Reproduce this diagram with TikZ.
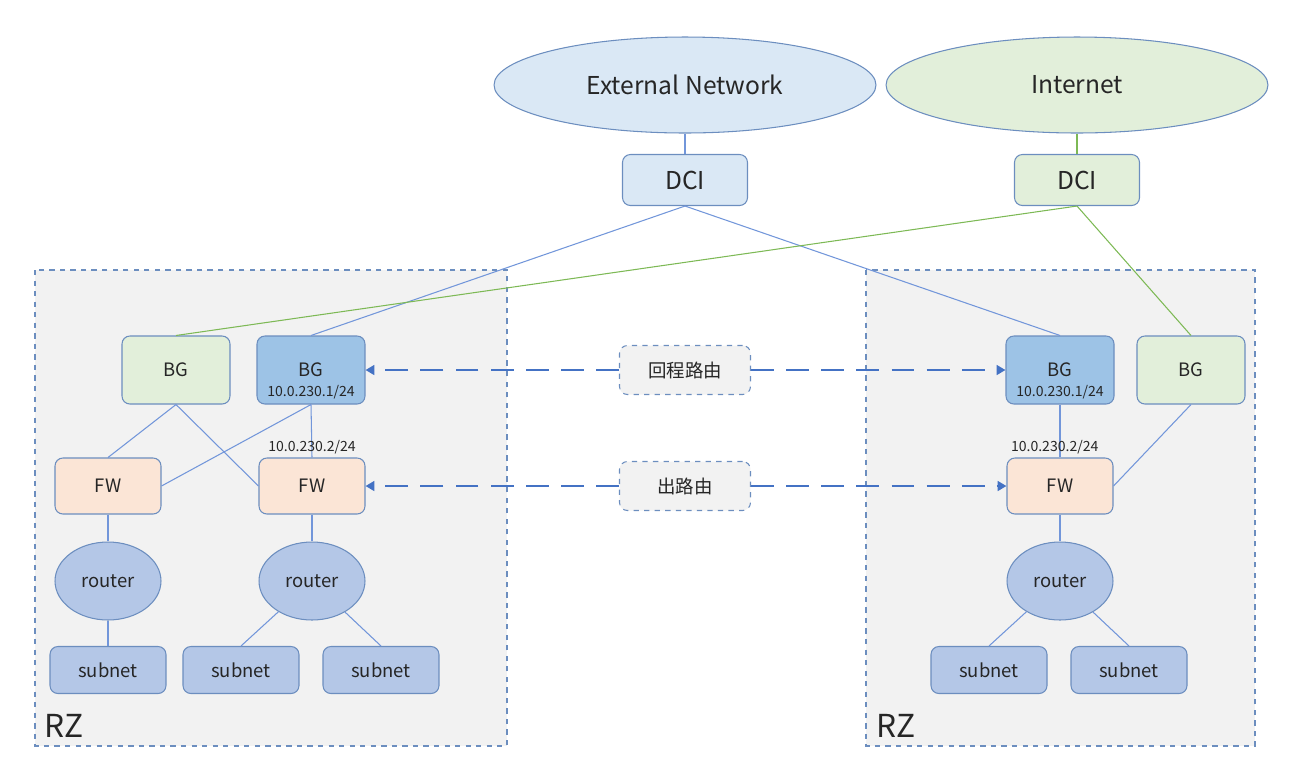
\documentclass[tikz,border=0pt]{standalone}
\usepackage{fontspec}
\setmainfont{Noto Sans CJK SC}
\usepackage{tikz}
\usetikzlibrary{shapes.geometric,arrows.meta,positioning}
\definecolor{netblue}{RGB}{218, 232, 245}
\definecolor{netgreen}{RGB}{226, 239, 218}
\definecolor{bgblue}{RGB}{157, 195, 230}
\definecolor{fwpeach}{RGB}{251, 229, 214}
\definecolor{rtblue}{RGB}{180, 199, 231}
\definecolor{edgeblue}{RGB}{108, 142, 191}
\definecolor{wireblue}{RGB}{114, 150, 218}
\definecolor{wiregreen}{RGB}{125, 185, 85}
\definecolor{arrowblue}{RGB}{68, 114, 196}
\definecolor{zonegray}{RGB}{242, 242, 242}
\definecolor{textgray}{RGB}{38, 38, 38}

\tikzset{
  box/.style={draw=edgeblue, line width=0.6pt, rectangle, rounded corners=4.5pt, text=textgray, inner sep=0pt},
  cloud/.style={draw=edgeblue, line width=0.6pt, ellipse, inner sep=0pt, minimum width=7.64cm, minimum height=1.92cm, font=\fontsize{14}{16}\selectfont, text=textgray},
  dcibox/.style={box, minimum width=2.5cm, minimum height=1.02cm, font=\fontsize{14}{16}\selectfont},
  bgbox/.style={box, minimum width=2.16cm, minimum height=1.36cm, font=\fontsize{10.5}{12}\selectfont},
  fwbox/.style={box, fill=fwpeach, minimum width=2.12cm, minimum height=1.12cm, font=\fontsize{10.5}{12}\selectfont},
  rtnode/.style={draw=edgeblue, line width=0.6pt, ellipse, fill=rtblue, inner sep=0pt, minimum width=2.12cm, minimum height=1.56cm, text=textgray, font=\fontsize{10.5}{12}\selectfont},
  subbox/.style={box, fill=rtblue, minimum width=2.32cm, minimum height=0.94cm, font=\fontsize{10.5}{12}\selectfont},
  tagbox/.style={box, dashed, fill=zonegray, minimum width=2.62cm, minimum height=0.98cm, font=\fontsize{10.5}{12}\selectfont},
  zone/.style={draw=edgeblue, dashed, line width=0.6pt, fill=zonegray},
  iptext/.style={inner sep=0pt, text=textgray, font=\fontsize{8}{9}\selectfont},
  bwire/.style={draw=wireblue, line width=0.6pt},
  gwire/.style={draw=wiregreen, line width=0.6pt},
  route/.style={draw=arrowblue, line width=1.6pt, dash pattern=on 13pt off 7pt, -{Triangle[length=5pt,width=5.5pt]}}
}

\begin{document}
\begin{tikzpicture}[x=0.02cm, y=-0.02cm]
    \useasboundingbox (0,0) rectangle (1305,772);

    % Zones
    \draw[zone] (35,270) rectangle (507,746);
    \draw[zone] (866,270) rectangle (1255,746);
    \node[anchor=south west, inner sep=0pt, text=textgray, font=\fontsize{18}{20}\selectfont] (rzL) at (44,738) {RZ};
    \node[anchor=south west, inner sep=0pt, text=textgray, font=\fontsize{18}{20}\selectfont] (rzR) at (876,738) {RZ};

    % Upstream networks
    \node[cloud, fill=netblue] (ext) at (685,85) {External Network};
    \node[cloud, fill=netgreen] (inet) at (1077,85) {Internet};
    \node[dcibox, fill=netblue] (dciA) at (685,180) {DCI};
    \node[dcibox, fill=netgreen] (dciB) at (1077,180) {DCI};

    % Left zone
    \node[bgbox, fill=netgreen] (bgLg) at (176,370) {BG};
    \node[bgbox, fill=bgblue] (bgLb) at (311,370) {BG};
    \node[fwbox] (fwL1) at (108,486) {FW};
    \node[fwbox] (fwL2) at (312,486) {FW};
    \node[rtnode] (rtL1) at (108,581) {router};
    \node[rtnode] (rtL2) at (312,581) {router};
    \node[subbox] (snL1) at (108,670) {subnet};
    \node[subbox] (snL2) at (241,670) {subnet};
    \node[subbox] (snL3) at (381,670) {subnet};

    % Right zone
    \node[bgbox, fill=bgblue] (bgRb) at (1060,370) {BG};
    \node[bgbox, fill=netgreen] (bgRg) at (1191,370) {BG};
    \node[fwbox] (fwR) at (1060,486) {FW};
    \node[rtnode] (rtR) at (1060,581) {router};
    \node[subbox] (snR1) at (989,670) {subnet};
    \node[subbox] (snR2) at (1129,670) {subnet};

    % Route tags
    \node[tagbox] (back) at (685,370) {回程路由};
    \node[tagbox] (out) at (685,486) {出路由};

    % Links
    \draw[bwire] (ext) -- (dciA);
    \draw[gwire] (inet) -- (dciB);
    \draw[bwire] (dciA.south) -- (bgLb.north);
    \draw[bwire] (dciA.south) -- (bgRb.north);
    \draw[gwire] (dciB.south) -- (bgLg.north);
    \draw[gwire] (dciB.south) -- (bgRg.north);

    \draw[bwire] (bgLg.south) -- (fwL1.north);
    \draw[bwire] (bgLg.south) -- (fwL2.west);
    \draw[bwire] (bgLb.south) -- (fwL1.east);
    \draw[bwire] (bgLb.south) -- (fwL2.north);
    \draw[bwire] (fwL1) -- (rtL1);
    \draw[bwire] (rtL1) -- (snL1);
    \draw[bwire] (fwL2) -- (rtL2);
    \draw[bwire] (rtL2) -- (snL2.north);
    \draw[bwire] (rtL2) -- (snL3.north);

    \draw[bwire] (bgRb.south) -- (fwR.north);
    \draw[bwire] (bgRg.south) -- (fwR.east);
    \draw[bwire] (fwR) -- (rtR);
    \draw[bwire] (rtR) -- (snR1.north);
    \draw[bwire] (rtR) -- (snR2.north);

    % Addresses
    \node[iptext, anchor=south] (ipL1) at ([yshift=3pt]bgLb.south) {10.0.230.1/24};
    \node[iptext, anchor=south] (ipL2) at ([yshift=2pt]fwL2.north) {10.0.230.2/24};
    \node[iptext, anchor=south] (ipR1) at ([yshift=3pt]bgRb.south) {10.0.230.1/24};
    \node[iptext, anchor=south] (ipR2) at ([xshift=-3pt, yshift=2pt]fwR.north) {10.0.230.2/24};

    % Routes
    \draw[route] (back.west) -- (bgLb.east);
    \draw[route] (back.east) -- (bgRb.west);
    \draw[route] (out.west) -- (fwL2.east);
    \draw[route] (out.east) -- (fwR.west);
\end{tikzpicture}
\end{document}
